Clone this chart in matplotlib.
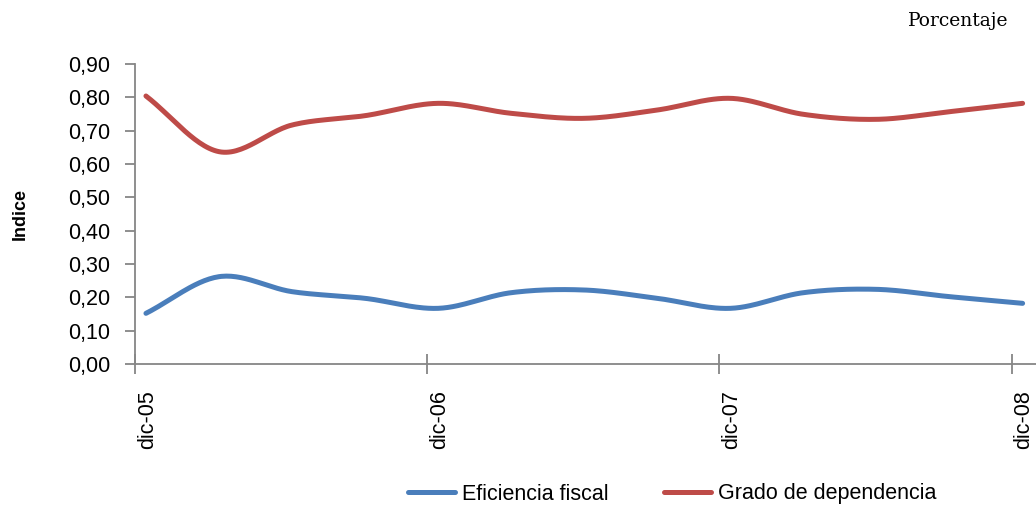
import numpy as np
import matplotlib
matplotlib.use("Agg")
import matplotlib.pyplot as plt
from matplotlib.ticker import FuncFormatter

# Data (quarterly observations, positions in months from dic-05)
months = [0, 3, 6, 9, 12, 15, 18, 21, 24, 27, 30, 33, 36]
eficiencia_fiscal = [0.152, 0.262, 0.217, 0.197, 0.167, 0.214, 0.222, 0.197,
                     0.167, 0.214, 0.224, 0.202, 0.182]
grado_dependencia = [0.804, 0.637, 0.717, 0.745, 0.782, 0.752, 0.737, 0.762,
                     0.797, 0.749, 0.734, 0.757, 0.782]
tick_labels = ["dic-05", "dic-06", "dic-07", "dic-08"]
tick_months = [0, 12, 24, 36]

font = ["Liberation Sans", "DejaVu Sans"]


def smooth(x, y, n=30):
    x = np.asarray(x, float)
    y = np.asarray(y, float)
    px = np.concatenate([[2 * x[0] - x[1]], x, [2 * x[-1] - x[-2]]])
    py = np.concatenate([[2 * y[0] - y[1]], y, [2 * y[-1] - y[-2]]])
    xs, ys = [], []
    t = np.linspace(0, 1, n, endpoint=False)
    for i in range(1, len(px) - 2):
        for arr, src in ((ys, py), (xs, px)):
            a0, a1, a2, a3 = src[i - 1], src[i], src[i + 1], src[i + 2]
            arr.extend(0.5 * ((2 * a1) + (-a0 + a2) * t +
                              (2 * a0 - 5 * a1 + 4 * a2 - a3) * t ** 2 +
                              (-a0 + 3 * a1 - 3 * a2 + a3) * t ** 3))
    xs.append(x[-1])
    ys.append(y[-1])
    return np.array(xs), np.array(ys)


fig = plt.figure(figsize=(10.36, 5.07), dpi=100)
ax = fig.add_axes([135 / 1036, (507 - 364) / 507, (1036 - 135) / 1036, 300 / 507])

blue = "#4A7EBB"
red = "#BE4B48"
sx, sy = smooth(months, eficiencia_fiscal)
ax.plot(sx, sy, color=blue, lw=3.6, solid_capstyle="round", label="Eficiencia fiscal")
sx, sy = smooth(months, grado_dependencia)
ax.plot(sx, sy, color=red, lw=3.6, solid_capstyle="round", label="Grado de dependencia")

ax.set_xlim(-0.45, 36.55)
ax.set_ylim(0, 0.9)

gray = "#868686"
for s in ["top", "right"]:
    ax.spines[s].set_visible(False)
for s in ["left", "bottom"]:
    ax.spines[s].set_color(gray)
    ax.spines[s].set_linewidth(1.3)

ax.set_yticks(np.arange(0, 0.91, 0.1))
ax.yaxis.set_major_formatter(FuncFormatter(lambda v, p: f"{v:.2f}".replace(".", ",")))
ax.tick_params(axis="y", direction="out", length=7, width=1.3, color=gray, pad=11,
               labelsize=15.5)
for lab in ax.get_yticklabels():
    lab.set_family(font)

ax.set_xticks([m - 0.45 for m in tick_months])
ax.set_xticklabels([])
ax.tick_params(axis="x", direction="inout", length=14, width=1.3, color=gray)
for m, lab in zip(tick_months, tick_labels):
    ax.text(m + 0.05, -0.078, lab, rotation=90, ha="center", va="top",
            fontsize=15.5, family=font)

ax.set_ylabel("Indice", fontsize=13, fontweight="bold", family=font, labelpad=28)

fig.text(1008 / 1036, 1 - 21 / 507, "Porcentaje", ha="right", va="center",
         fontsize=13.5, family=["DejaVu Serif"])

leg = fig.legend(loc="center", bbox_to_anchor=(672 / 1036, 1 - 494 / 507), ncol=2,
                 frameon=False, prop={"family": font, "size": 15.5},
                 handlelength=2.2, handletextpad=0.3, columnspacing=2.6)
for h in leg.get_lines():
    h.set_linewidth(3.6)

fig.savefig("out.png", dpi=100)
